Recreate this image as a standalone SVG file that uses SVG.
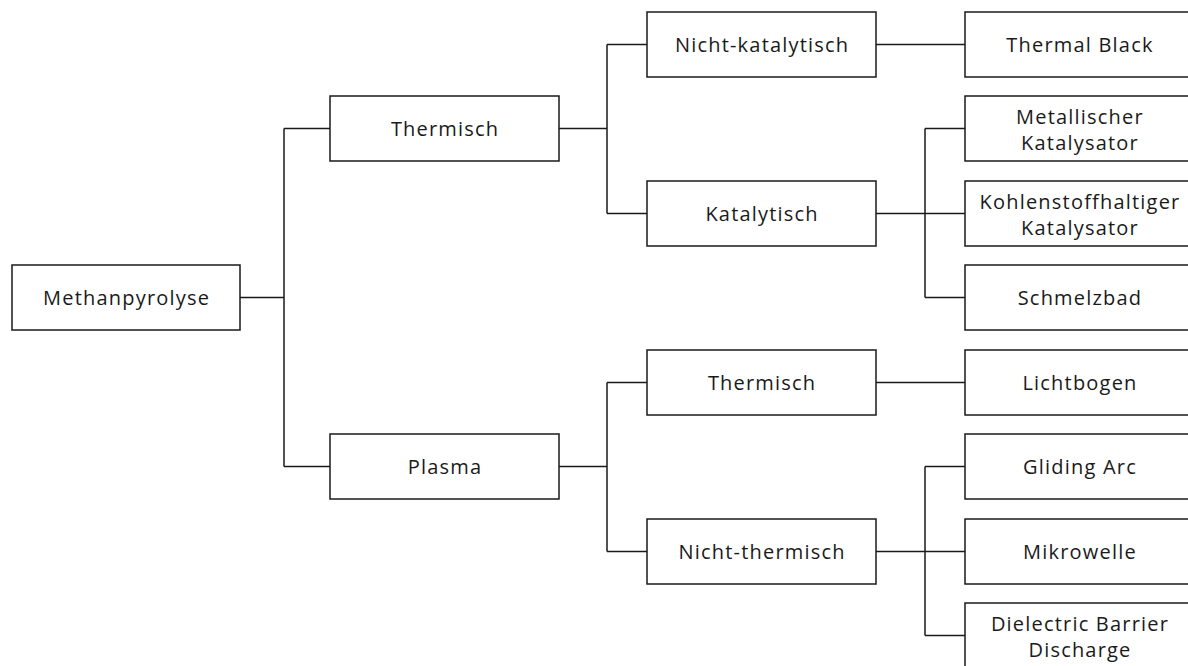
<svg xmlns="http://www.w3.org/2000/svg" width="1188" height="666" viewBox="0 0 1188 666">
<style>
.box{fill:#fff;stroke:#1a1a1a;stroke-width:1.5}
.t{font-family:"Open Sans","DejaVu Sans",sans-serif;font-size:20px;letter-spacing:1.2px;fill:#1a1a1a;text-anchor:middle;dominant-baseline:central}
.c{fill:none;stroke:#1a1a1a;stroke-width:1.5}
</style>
<rect width="1188" height="666" fill="#fff"/>
<g id="connectors">
<path class="c" d="M240,297.5H284M284,128.5V466.5M284,128.5H330M284,466.5H330"/>
<path class="c" d="M559,128.5H607M607,44.5V213.5M607,44.5H647M607,213.5H647"/>
<path class="c" d="M559,466.5H607M607,382.5V551.5M607,382.5H647M607,551.5H647"/>
<path class="c" d="M876,44.5H965"/>
<path class="c" d="M876,213.5H925M925,128.5V297.5M925,128.5H965M925,213.5H965M925,297.5H965"/>
<path class="c" d="M876,382.5H965"/>
<path class="c" d="M876,551.5H925M925,466.5V635.5M925,466.5H965M925,551.5H965M925,635.5H965"/>
</g>
<g id="n0"><rect class="box" x="12" y="265" width="228" height="65"/><text class="t" x="126.6" y="297.5">Methanpyrolyse</text></g>
<g id="n1"><rect class="box" x="330" y="96" width="229" height="65"/><text class="t" x="445.1" y="128.5">Thermisch</text></g>
<g id="n2"><rect class="box" x="330" y="434" width="229" height="65"/><text class="t" x="445.1" y="466.5">Plasma</text></g>
<g id="n3"><rect class="box" x="647" y="12" width="229" height="65"/><text class="t" x="762.1" y="44.5">Nicht-katalytisch</text></g>
<g id="n4"><rect class="box" x="647" y="181" width="229" height="65"/><text class="t" x="762.1" y="213.5">Katalytisch</text></g>
<g id="n5"><rect class="box" x="647" y="350" width="229" height="65"/><text class="t" x="762.1" y="382.5">Thermisch</text></g>
<g id="n6"><rect class="box" x="647" y="519" width="229" height="65"/><text class="t" x="762.1" y="551.5">Nicht-thermisch</text></g>
<g id="n7"><rect class="box" x="965" y="12" width="229" height="65"/><text class="t" x="1080" y="44.5">Thermal Black</text></g>
<g id="n8"><rect class="box" x="965" y="96" width="229" height="65"/><text class="t" x="1080" y="116">Metallischer</text><text class="t" x="1080" y="142">Katalysator</text></g>
<g id="n9"><rect class="box" x="965" y="181" width="229" height="65"/><text class="t" x="1080" y="201">Kohlenstoffhaltiger</text><text class="t" x="1080" y="227">Katalysator</text></g>
<g id="n10"><rect class="box" x="965" y="265" width="229" height="65"/><text class="t" x="1080" y="297.5">Schmelzbad</text></g>
<g id="n11"><rect class="box" x="965" y="350" width="229" height="65"/><text class="t" x="1080" y="382.5">Lichtbogen</text></g>
<g id="n12"><rect class="box" x="965" y="434" width="229" height="65"/><text class="t" x="1080" y="466.5">Gliding Arc</text></g>
<g id="n13"><rect class="box" x="965" y="519" width="229" height="65"/><text class="t" x="1080" y="551.5">Mikrowelle</text></g>
<g id="n14"><rect class="box" x="965" y="603" width="229" height="65"/><text class="t" x="1080" y="623">Dielectric Barrier</text><text class="t" x="1080" y="649">Discharge</text></g>
</svg>
